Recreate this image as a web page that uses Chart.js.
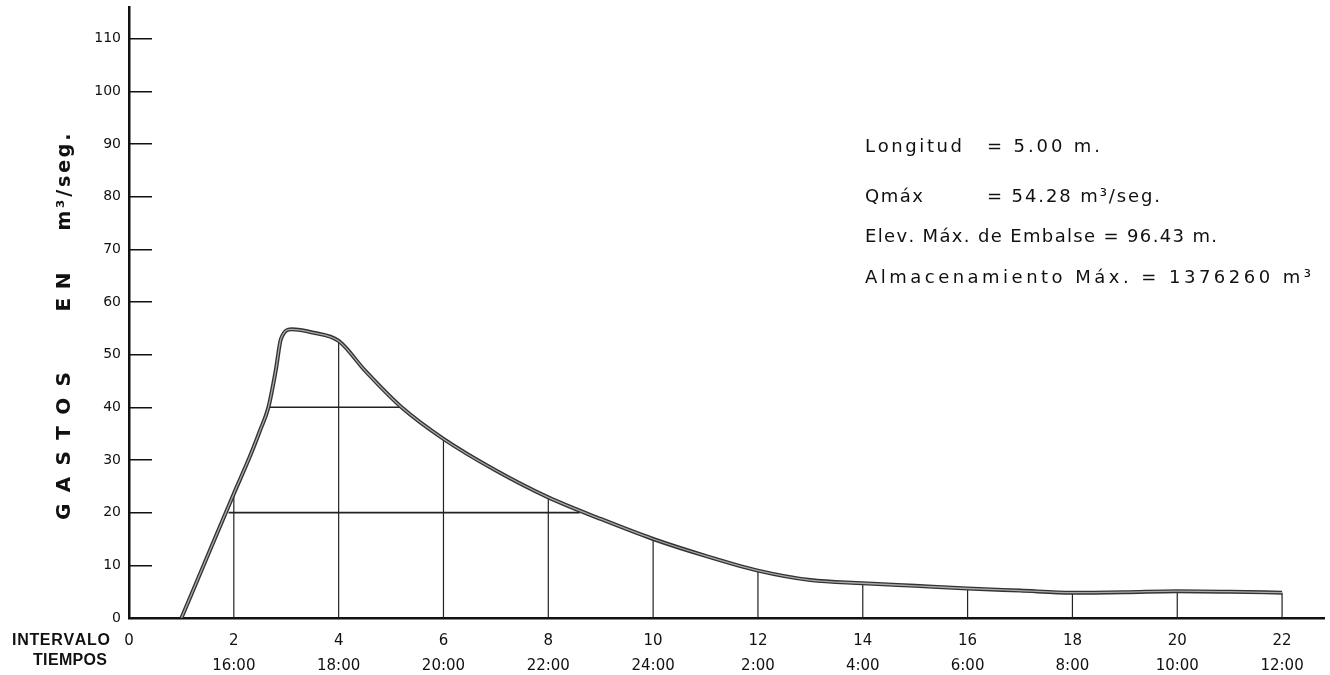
<!DOCTYPE html>
<html><head><meta charset="utf-8">
<script src="https://cdn.jsdelivr.net/npm/chart.js@4.4.1/dist/chart.umd.min.js"></script>
<style>html,body{margin:0;padding:0;background:#fff;}#wrap{width:1330px;height:675px;}</style>
</head><body><div id="wrap"><canvas id="c" width="1330" height="675"></canvas></div>
<script>
// ---- data ----
const curveX = [1, 1.5, 2, 2.3, 2.5, 2.66, 2.8, 2.9, 3.1, 3.5, 4, 4.5, 5.2, 6, 7, 8, 9, 10, 11, 12, 13, 14, 15, 16, 17, 18, 19, 20, 21, 22];
const curveY = [0, 11.8, 23.6, 30.5, 35.6, 40, 47, 53, 54.8, 54.2, 52.6, 47.0, 40, 34, 28, 22.9, 18.8, 15.0, 11.8, 9.0, 7.2, 6.6, 6.1, 5.6, 5.2, 4.8, 4.9, 5.1, 5.0, 4.8];
const dropX = [2, 4, 6, 8, 10, 12, 14, 16, 18, 20, 22];
const dropTop = [23.6, 52.6, 34, 22.9, 15.0, 9.0, 6.6, 5.6, 4.8, 5.1, 4.8];
const hLevels = [20, 40];
const hStart = [1.9, 2.67];
const hEnd = [8.6, 5.22];
const xTickValues = [0, 2, 4, 6, 8, 10, 12, 14, 16, 18, 20, 22];
const xTickNumbers = ['0', '2', '4', '6', '8', '10', '12', '14', '16', '18', '20', '22'];
const xTickTimes = ['', '16:00', '18:00', '20:00', '22:00', '24:00', '2:00', '4:00', '6:00', '8:00', '10:00', '12:00'];
const yTickValues = [0, 10, 20, 30, 40, 50, 60, 70, 80, 90, 100, 110];
const yTitleWords = ['GASTOS', 'EN', 'm³/seg.'];
const xTitleLines = ['INTERVALO', 'TIEMPOS'];
const noteLabels = ['Longitud', 'Qmáx', 'Elev. Máx. de Embalse = 96.43 m.', 'Almacenamiento Máx. = 1376260 m³'];
const noteValues = ['= 5.00 m.', '= 54.28 m³/seg.', '', ''];

const curvePts = curveX.map((x, i) => ({x, y: curveY[i]}));
const dropPts = [];
dropX.forEach((x, i) => { dropPts.push({x, y: 0}, {x, y: dropTop[i]}, {x, y: null}); });
const hPts = [];
hLevels.forEach((lv, i) => { hPts.push({x: hStart[i], y: lv}, {x: hEnd[i], y: lv}, {x: hEnd[i], y: null}); });

// draw text spread to span an exact width
function spaced(ctx, text, x, y, width, align) {
  const chars = Array.from(text);
  const ws = chars.map(c => ctx.measureText(c).width);
  const natural = ws.reduce((a, b) => a + b, 0);
  const gap = chars.length > 1 ? (width - natural) / (chars.length - 1) : 0;
  let cx = align === 'center' ? x - width / 2 : x;
  ctx.textAlign = 'left';
  chars.forEach((c, i) => { ctx.fillText(c, cx, y); cx += ws[i] + gap; });
}

const textPlugin = {
  id: 'texts',
  afterDraw(chart) {
    const ctx = chart.ctx;
    ctx.save();
    ctx.fillStyle = '#111';
    ctx.textBaseline = 'middle';
    // y-axis title, rotated
    ctx.font = 'bold 20px "DejaVu Sans"';
    const yt = [[446, 148], [292, 39], [182, 97]];
    yTitleWords.forEach((w, i) => {
      ctx.save();
      ctx.translate(65, yt[i][0]);
      ctx.rotate(-Math.PI / 2);
      if (i === 2) ctx.font = 'bold 19px "DejaVu Sans"';
      spaced(ctx, w, 0, 0, yt[i][1], 'center');
      ctx.restore();
    });
    // x-axis title
    ctx.font = 'bold 16px "Liberation Sans"';
    spaced(ctx, xTitleLines[0], 12, 641, 98, 'left');
    spaced(ctx, xTitleLines[1], 33, 661, 74, 'left');
    // notes
    ctx.font = '18px "DejaVu Sans"';
    const rows = [147, 197, 237, 278];
    const labelW = [97, 58, 352, 446];
    const valW = [113, 173];
    noteLabels.forEach((t, i) => {
      spaced(ctx, t, 865, rows[i], labelW[i], 'left');
      if (noteValues[i]) spaced(ctx, noteValues[i], 987, rows[i], valW[i], 'left');
    });
    ctx.restore();
  }
};

new Chart(document.getElementById('c'), {
  type: 'line',
  data: {
    datasets: [
      {data: curvePts, borderColor: '#aaa', borderWidth: 1.3, cubicInterpolationMode: 'monotone', pointRadius: 0},
      {data: curvePts, borderColor: '#333', borderWidth: 4, cubicInterpolationMode: 'monotone', pointRadius: 0},
      {data: hPts, borderColor: '#222', borderWidth: 1.6, spanGaps: false, pointRadius: 0},
      {data: dropPts, borderColor: '#222', borderWidth: 1.2, spanGaps: false, pointRadius: 0}
    ]
  },
  options: {
    responsive: false,
    animation: false,
    layout: {padding: {top: 7, right: 6, left: 0, bottom: 0}},
    plugins: {legend: {display: false}, tooltip: {enabled: false}},
    scales: {
      x: {
        type: 'linear', min: 0, max: 22.8,
        grid: {display: false, drawTicks: false},
        border: {display: true, color: '#111', width: 2.5},
        ticks: {
          padding: 10.5, color: '#111', autoSkip: false, maxRotation: 0,
          font: {family: 'DejaVu Sans', size: 15, lineHeight: '25px'},
          callback: (v) => { const i = xTickValues.indexOf(v); return [xTickNumbers[i], xTickTimes[i]]; }
        },
        afterBuildTicks: s => { s.ticks = xTickValues.map(v => ({value: v})); },
        afterFit: s => { s.height = 57; s.paddingLeft = 0; s.paddingRight = 0; }
      },
      y: {
        type: 'linear', min: 0, max: 116,
        grid: {drawOnChartArea: false, drawTicks: true, tickLength: -23, color: '#111', lineWidth: 1.5},
        border: {display: true, color: '#111', width: 2.5},
        ticks: {padding: 31, color: '#111', autoSkip: false, font: {family: 'DejaVu Sans', size: 14}},
        afterBuildTicks: s => { s.ticks = yTickValues.map(v => ({value: v})); },
        afterFit: s => { s.width = 129; s.paddingTop = 0; s.paddingBottom = 0; }
      }
    }
  },
  plugins: [textPlugin]
});
</script>
</body></html>
